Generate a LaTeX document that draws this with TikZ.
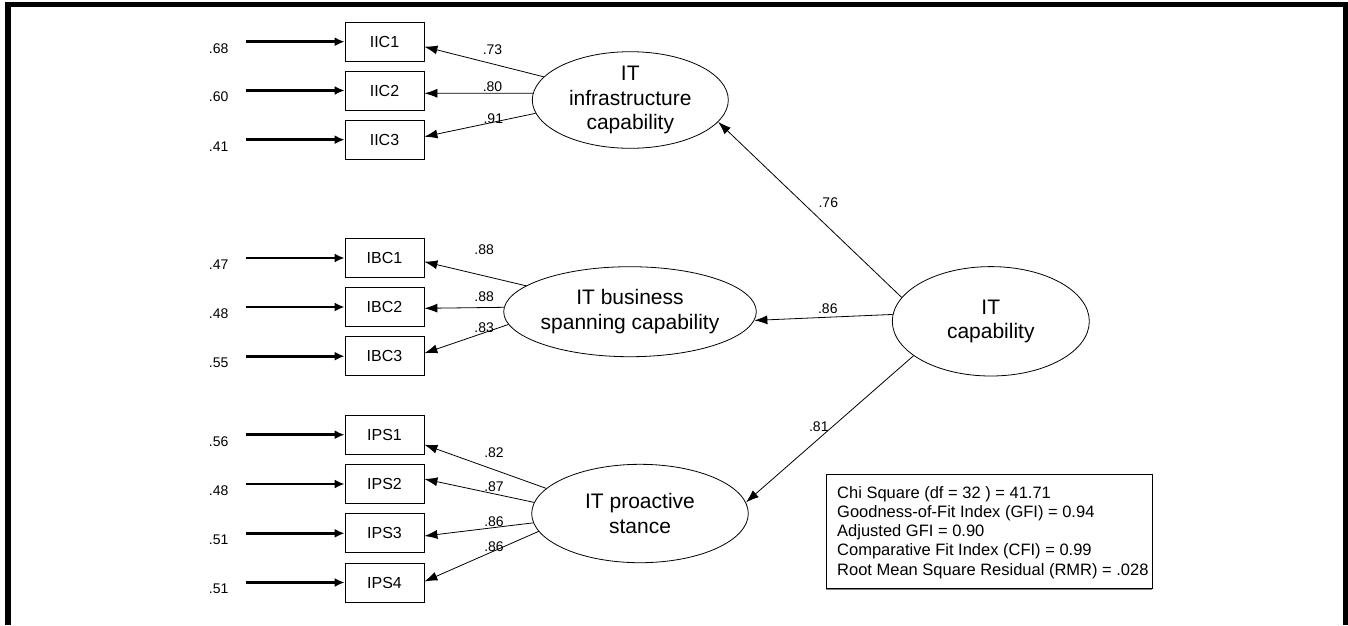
\documentclass[tikz,border=0pt]{standalone}
\usepackage{fontspec}
\setmainfont{Liberation Sans}
\usetikzlibrary{arrows.meta,shapes.geometric}
\begin{document}
\begin{tikzpicture}[x=1pt,y=-1pt,
  obs/.style={draw, rectangle, minimum width=79pt, minimum height=39pt, inner sep=0pt, line width=0.8pt, font=\fontsize{16}{19}\selectfont},
  lat/.style={draw, ellipse, inner sep=0pt, align=center, line width=0.8pt, font=\fontsize{21}{24.5}\selectfont},
  lab/.style={inner sep=0pt, font=\fontsize{14}{16}\selectfont},
  pth/.style={-{Latex[length=13pt,width=9pt]}, line width=0.8pt},
  err/.style={-{Latex[length=10pt,width=9pt]}, line width=2.6pt},
]
\useasboundingbox (0,0) rectangle (1348,625);
% frame
\fill (5,1.7) rectangle (1348,7.3);
\fill (5,1.7) rectangle (11,625);
\fill (1342.7,1.7) rectangle (1348,625);

% observed variables
\node[obs] (IIC1) at (384.5,41.7) {IIC1};
\node[obs] (IIC2) at (384.5,90.5) {IIC2};
\node[obs] (IIC3) at (384.5,139.7) {IIC3};
\node[obs] (IBC1) at (384.5,258) {IBC1};
\node[obs] (IBC2) at (384.5,307) {IBC2};
\node[obs] (IBC3) at (384.5,356.2) {IBC3};
\node[obs] (IPS1) at (384.5,434.7) {IPS1};
\node[obs] (IPS2) at (384.5,484) {IPS2};
\node[obs] (IPS3) at (384.5,533.3) {IPS3};
\node[obs] (IPS4) at (384.5,582.5) {IPS4};

% error arrows
\foreach \n/\v in {IIC1/.68,IIC2/.60,IIC3/.41,IBC1/.47,IBC2/.48,IBC3/.55,IPS1/.56,IPS2/.48,IPS3/.51,IPS4/.51}{
  \coordinate (e\n) at ([xshift=-99pt]\n.west);
  \draw[err] (e\n) -- (\n.west);
  \node[lab] (ev\n) at ([xshift=-27pt,yshift=-6.5pt]e\n) {\v};
}

% latent variables
\node[lat, minimum width=196pt, minimum height=96.6pt] (infra) at (630.3,100) {IT\\infrastructure\\capability};
\node[lat, minimum width=216.6pt, minimum height=90pt] (ibc) at (630,311.7) {IT business\\spanning capability};
\node[lat, minimum width=197pt, minimum height=109.4pt] (itcap) at (990.8,321.3) {IT\\capability};
\node[lat, minimum width=216.6pt, minimum height=98.4pt] (ips) at (640,513.5) {IT proactive\\stance};

% loadings
\draw[pth] (infra.165) -- ([yshift=-5pt]IIC1.east);
\draw[pth] (infra.176.7) -- ([yshift=-2.8pt]IIC2.east);
\draw[pth] (infra.188) -- ([yshift=3pt]IIC3.east);
\draw[pth] (ibc.166.4) -- ([yshift=-3.7pt]IBC1.east);
\draw[pth] (ibc.178.6) -- ([yshift=-1.3pt]IBC2.east);
\draw[pth] (ibc.186.3) -- ([yshift=3pt]IBC3.east);
\draw[pth] (ips.165.1) -- ([yshift=-10pt]IPS1.east);
\draw[pth] (ips.174.9) -- ([yshift=5pt]IPS2.east);
\draw[pth] (ips.185.6) -- ([yshift=-2.7pt]IPS3.east);
\draw[pth] (ips.190.8) -- ([yshift=1pt]IPS4.east);

% structural paths
\draw[pth] (itcap.165.5) -- (infra.346.6);
\draw[pth] (itcap.176.7) -- (ibc.356.5);
\draw[pth] (itcap.204.4) -- (ips.6.2);

% loading labels
\node[lab] (l1) at (492.5,49.7) {.73};
\node[lab] (l2) at (492.5,86.7) {.80};
\node[lab] (l3) at (493.3,118.5) {.91};
\node[lab] (l4) at (484.2,250) {.88};
\node[lab] (l5) at (484.2,296.7) {.88};
\node[lab] (l6) at (484.2,327.7) {.83};
\node[lab] (l7) at (494,453) {.82};
\node[lab] (l8) at (494,486.3) {.87};
\node[lab] (l9) at (494,522) {.86};
\node[lab] (l10) at (494,546.7) {.86};
\node[lab] (s1) at (828.3,203) {.76};
\node[lab] (s2) at (827.8,308.3) {.86};
\node[lab] (s3) at (818.8,426.7) {.81};

% fit statistics
\node[draw, line width=0.8pt, minimum width=326pt, minimum height=114pt, inner sep=0pt] (fitbox) at (989,531.3) {};
\draw[gray, line width=1.6pt] ([yshift=-0.8pt]fitbox.south west) -- ([yshift=-0.8pt]fitbox.south east);
\node[anchor=north west, align=left, inner sep=0pt, font=\fontsize{16.5}{19.2}\selectfont] (stats) at (837,486.2)
 {Chi Square (df = 32 ) = 41.71\\Goodness-of-Fit Index (GFI) = 0.94\\Adjusted GFI = 0.90\\Comparative Fit Index (CFI) = 0.99\\Root Mean Square Residual (RMR) = .028};
\end{tikzpicture}
\end{document}
